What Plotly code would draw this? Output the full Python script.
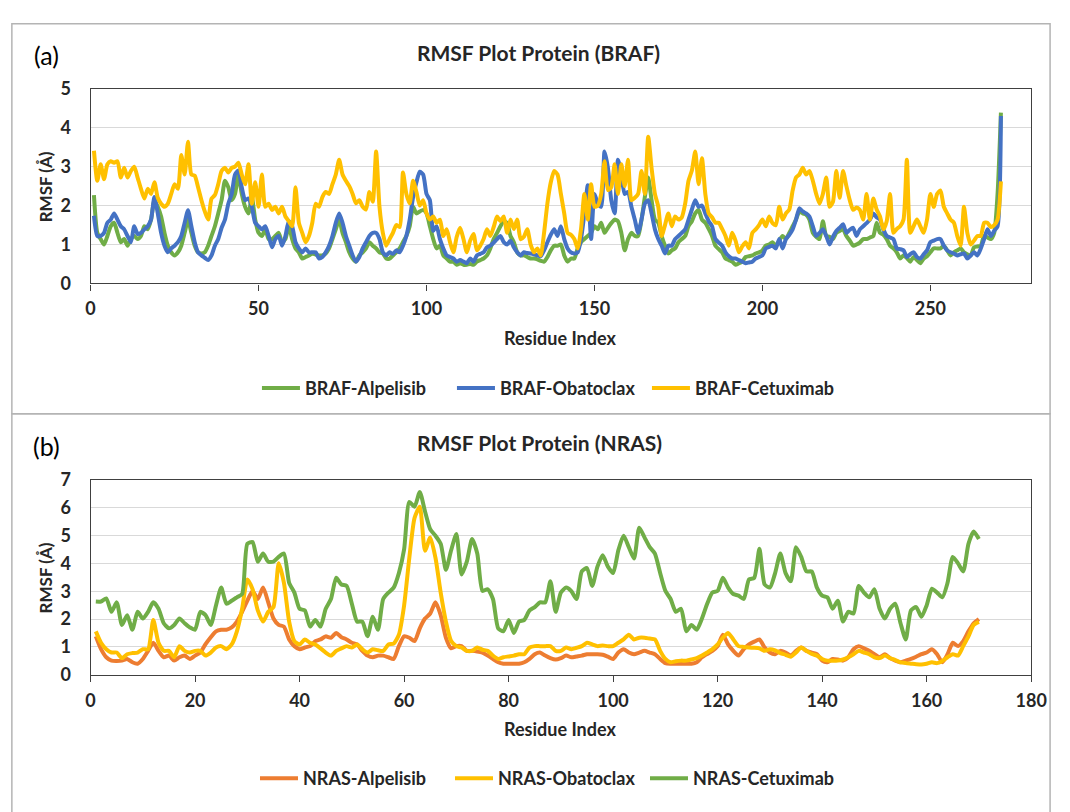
import plotly.graph_objects as go

# ---------------- BRAF RMSF (Å) per residue ----------------
braf_residues = list(range(1, 272))

braf_alpelisib = [
    2.27, 1.30, 1.14, 1.00, 1.22, 1.47, 1.56, 1.30, 1.06, 1.14,
    0.97, 1.14, 1.22, 1.14, 1.22, 1.47, 1.39, 1.64, 2.14, 1.97,
    1.72, 1.30, 0.97, 0.80, 0.72, 0.80, 0.97, 1.30, 1.64, 1.30,
    0.97, 0.80, 0.77, 0.80, 0.97, 1.22, 1.47, 1.80, 2.14, 2.64,
    2.47, 2.14, 2.30, 2.80, 2.30, 1.97, 1.80, 2.22, 1.64, 1.30,
    1.22, 1.39, 1.14, 1.14, 1.22, 1.30, 1.06, 1.14, 1.47, 1.14,
    0.90, 0.80, 0.64, 0.68, 0.72, 0.77, 0.74, 0.72, 0.72, 0.77,
    0.90, 1.14, 1.39, 1.64, 1.30, 1.06, 0.80, 0.64, 0.56, 0.72,
    0.80, 0.90, 1.06, 0.97, 0.90, 0.80, 0.77, 0.64, 0.64, 0.72,
    0.80, 0.90, 1.06, 1.22, 1.47, 1.97, 1.80, 1.85, 1.89, 1.80,
    1.47, 1.14, 0.90, 0.97, 0.72, 0.64, 0.56, 0.56, 0.48, 0.52,
    0.48, 0.48, 0.50, 0.48, 0.56, 0.60, 0.64, 0.72, 0.90, 1.14,
    1.30, 1.47, 1.60, 1.55, 1.22, 1.06, 0.80, 0.72, 0.72, 0.68,
    0.64, 0.64, 0.62, 0.58, 0.56, 0.68, 0.85, 0.97, 0.97, 1.00,
    0.72, 0.56, 0.64, 0.64, 0.90, 1.06, 1.14, 1.22, 1.30, 1.47,
    1.39, 1.56, 1.30, 1.43, 1.55, 1.64, 1.60, 1.30, 0.85, 1.14,
    1.30, 1.22, 1.22, 1.64, 2.22, 2.72, 2.14, 1.64, 1.56, 1.22,
    0.97, 0.77, 0.85, 0.90, 1.06, 1.14, 1.22, 1.47, 1.60, 1.80,
    1.89, 1.64, 1.56, 1.40, 1.22, 0.97, 0.88, 0.80, 0.64, 0.60,
    0.56, 0.48, 0.52, 0.56, 0.68, 0.70, 0.72, 0.77, 0.80, 0.85,
    0.97, 1.00, 1.06, 0.97, 1.10, 1.22, 1.14, 1.30, 1.47, 1.64,
    1.85, 1.80, 1.77, 1.64, 1.30, 1.20, 1.14, 1.60, 1.22, 1.20,
    1.14, 1.30, 1.35, 1.39, 1.22, 1.10, 0.97, 1.00, 1.05, 1.14,
    1.14, 1.18, 1.22, 1.56, 1.30, 1.25, 1.14, 0.97, 0.90, 0.80,
    0.64, 0.72, 0.65, 0.56, 0.68, 0.60, 0.52, 0.64, 0.70, 0.80,
    0.90, 0.90, 0.90, 0.97, 0.85, 0.72, 0.80, 0.85, 0.90, 0.80,
    0.75, 0.72, 0.93, 0.95, 0.97, 1.22, 1.18, 1.14, 1.30, 2.30,
    4.39,
]

braf_obatoclax = [
    1.74, 1.22, 1.22, 1.30, 1.56, 1.64, 1.80, 1.64, 1.47, 1.39,
    1.22, 1.06, 1.47, 1.27, 1.30, 1.39, 1.47, 1.64, 2.22, 1.80,
    1.30, 0.97, 0.80, 0.90, 0.97, 1.06, 1.22, 1.56, 1.88, 1.47,
    1.06, 0.80, 0.72, 0.66, 0.60, 0.72, 0.97, 1.14, 1.43, 1.64,
    2.05, 2.30, 2.80, 2.90, 2.47, 2.14, 2.18, 1.97, 1.56, 1.47,
    1.39, 1.47, 1.22, 0.93, 1.14, 1.22, 0.97, 1.22, 1.60, 1.47,
    1.06, 0.90, 0.80, 0.90, 0.80, 0.80, 0.80, 0.64, 0.68, 0.80,
    0.97, 1.22, 1.56, 1.80, 1.56, 1.22, 0.97, 0.72, 0.56, 0.68,
    0.90, 1.06, 1.22, 1.30, 1.30, 1.14, 0.80, 0.72, 0.80, 0.76,
    0.85, 0.80, 0.97, 1.22, 1.64, 2.22, 2.60, 2.87, 2.80, 2.30,
    2.14, 1.35, 1.47, 1.14, 0.90, 0.72, 0.68, 0.64, 0.56, 0.60,
    0.56, 0.52, 0.64, 0.56, 0.72, 0.76, 0.80, 0.93, 0.97, 1.05,
    1.14, 1.22, 1.06, 1.00, 1.10, 0.93, 0.80, 0.72, 0.80, 0.78,
    0.77, 0.75, 0.72, 0.70, 0.85, 1.06, 1.25, 1.39, 1.22, 1.47,
    1.14, 0.90, 0.80, 0.77, 0.80, 1.14, 1.80, 2.52, 1.14, 2.30,
    2.05, 1.97, 3.39, 2.97, 2.14, 1.80, 3.18, 2.80, 2.30, 2.35,
    1.97, 1.64, 1.30, 1.64, 2.05, 2.14, 1.80, 1.39, 1.14, 0.97,
    0.77, 0.97, 0.97, 1.14, 1.22, 1.30, 1.39, 1.64, 1.90, 2.14,
    1.97, 2.00, 1.80, 1.60, 1.47, 1.14, 1.05, 0.97, 0.80, 0.70,
    0.64, 0.64, 0.60, 0.56, 0.52, 0.54, 0.56, 0.64, 0.68, 0.72,
    0.90, 0.94, 0.97, 0.90, 1.14, 0.90, 1.14, 1.25, 1.39, 1.64,
    1.93, 1.85, 1.80, 1.72, 1.47, 1.22, 1.30, 1.39, 1.22, 1.00,
    1.20, 1.35, 1.43, 1.52, 1.30, 1.38, 1.43, 1.22, 1.39, 1.47,
    1.55, 1.64, 1.80, 1.70, 1.64, 1.39, 1.22, 1.18, 1.14, 0.90,
    0.88, 0.85, 0.68, 0.75, 0.80, 0.68, 0.64, 0.75, 0.85, 1.06,
    1.10, 1.14, 1.14, 0.97, 0.85, 0.80, 0.77, 0.72, 0.75, 0.77,
    0.64, 0.72, 0.80, 0.72, 0.90, 1.14, 1.39, 1.22, 1.35, 1.47,
    4.30,
]

braf_cetuximab = [
    3.41, 2.64, 3.06, 2.68, 3.06, 3.14, 3.10, 3.14, 2.72, 2.97,
    2.72, 2.89, 3.00, 2.72, 2.43, 2.18, 2.43, 2.30, 2.60, 2.20,
    2.05, 1.97, 2.05, 2.30, 2.55, 2.43, 3.30, 2.80, 3.64, 2.80,
    2.77, 2.47, 2.14, 1.85, 1.64, 2.18, 2.27, 2.55, 2.89, 2.97,
    2.85, 2.97, 3.00, 3.10, 2.80, 2.55, 3.06, 2.05, 2.60, 1.97,
    2.80, 1.97, 2.05, 1.89, 1.97, 1.80, 1.97, 1.72, 1.60, 1.47,
    2.47, 1.56, 1.30, 1.06, 1.22, 1.56, 2.05, 1.97, 2.22, 2.35,
    2.30, 2.55, 2.80, 3.18, 2.80, 2.64, 2.50, 2.30, 2.06, 2.14,
    1.97, 1.90, 2.35, 2.10, 3.39, 1.97, 1.30, 0.97, 1.14, 1.30,
    1.50, 1.45, 2.85, 2.30, 2.06, 2.64, 2.35, 2.00, 2.14, 1.80,
    1.64, 1.72, 1.56, 1.64, 1.22, 1.39, 1.06, 0.80, 1.20, 1.43,
    1.14, 0.80, 1.10, 1.27, 0.85, 0.97, 1.14, 1.39, 1.22, 1.45,
    1.72, 1.60, 1.72, 1.30, 1.64, 1.40, 1.64, 1.14, 1.20, 1.39,
    1.00, 0.80, 0.90, 0.72, 1.30, 2.06, 2.60, 2.89, 2.80, 2.30,
    1.80, 1.30, 1.25, 1.14, 0.90, 1.40, 2.30, 1.64, 2.55, 1.97,
    2.00, 2.30, 3.14, 2.40, 2.47, 3.06, 2.30, 3.06, 2.50, 3.18,
    2.14, 2.20, 2.30, 2.89, 2.30, 3.77, 2.97, 2.30, 1.97, 1.22,
    1.50, 1.80, 1.47, 1.72, 1.64, 1.70, 2.05, 2.64, 2.90, 3.39,
    2.55, 3.22, 2.30, 1.80, 1.70, 1.56, 1.56, 1.40, 1.22, 0.97,
    1.30, 1.10, 0.80, 0.95, 1.06, 0.90, 1.30, 1.39, 1.50, 1.64,
    1.47, 1.72, 1.55, 1.50, 1.97, 1.64, 1.80, 1.90, 2.39, 2.72,
    2.80, 2.97, 2.80, 2.89, 2.64, 2.30, 2.05, 2.30, 2.72, 1.97,
    2.10, 2.89, 2.20, 2.89, 2.50, 2.14, 1.89, 1.95, 1.89, 1.64,
    2.30, 1.64, 2.18, 1.90, 1.72, 1.39, 1.60, 2.30, 1.30, 1.40,
    1.47, 1.64, 3.18, 1.30, 1.47, 1.64, 1.47, 1.30, 1.64, 2.30,
    1.97, 2.30, 2.39, 1.97, 1.80, 1.64, 1.56, 1.22, 0.97, 1.97,
    1.30, 1.00, 1.10, 1.22, 1.22, 1.56, 1.56, 1.45, 1.50, 1.64,
    2.62,
]

# ---------------- NRAS RMSF (Å) per residue ----------------
nras_residues = list(range(1, 171))

nras_alpelisib = [
    1.38, 0.92, 0.63, 0.51, 0.50, 0.51, 0.57, 0.45, 0.40, 0.57,
    0.86, 1.15, 0.86, 0.63, 0.69, 0.51, 0.63, 0.69, 0.57, 0.69,
    0.80, 1.10, 1.35, 1.56, 1.62, 1.62, 1.70, 1.91, 2.26, 2.66,
    3.01, 2.72, 3.13, 2.60, 2.02, 1.79, 1.73, 1.27, 1.03, 0.92,
    0.98, 1.03, 1.21, 1.27, 1.38, 1.33, 1.50, 1.35, 1.27, 1.15,
    1.09, 0.86, 0.69, 0.63, 0.69, 0.69, 0.63, 0.57, 1.03, 1.38,
    1.33, 1.21, 1.67, 2.02, 2.20, 2.60, 2.14, 1.33, 0.95, 1.03,
    1.03, 0.86, 0.86, 0.84, 0.80, 0.69, 0.57, 0.45, 0.40, 0.40,
    0.40, 0.40, 0.45, 0.57, 0.74, 0.80, 0.69, 0.60, 0.55, 0.60,
    0.69, 0.63, 0.66, 0.69, 0.74, 0.74, 0.74, 0.72, 0.65, 0.57,
    0.80, 0.92, 0.80, 0.74, 0.80, 0.86, 0.80, 0.74, 0.57, 0.42,
    0.40, 0.40, 0.40, 0.40, 0.40, 0.45, 0.63, 0.75, 0.86, 1.03,
    1.44, 1.09, 0.86, 0.69, 0.92, 1.09, 1.19, 1.27, 0.98, 0.80,
    0.74, 0.86, 0.80, 0.69, 0.86, 0.98, 0.86, 0.80, 0.74, 0.51,
    0.45, 0.57, 0.55, 0.51, 0.63, 0.92, 1.03, 0.95, 0.86, 0.74,
    0.63, 0.74, 0.60, 0.51, 0.45, 0.51, 0.57, 0.65, 0.74, 0.80,
    0.92, 0.74, 0.45, 0.74, 1.15, 1.03, 1.21, 1.56, 1.85, 2.00,
]

nras_obatoclax = [
    1.56, 1.15, 0.92, 0.80, 0.80, 0.60, 0.74, 0.78, 0.80, 0.92,
    0.92, 1.97, 1.15, 0.86, 0.86, 0.63, 1.03, 0.86, 0.80, 0.86,
    0.86, 0.69, 0.80, 0.98, 1.03, 0.92, 1.09, 1.56, 2.37, 3.42,
    3.07, 2.31, 1.91, 2.26, 2.43, 4.00, 3.30, 1.91, 1.21, 1.09,
    1.27, 1.15, 1.09, 0.95, 0.80, 0.69, 0.86, 0.95, 1.03, 0.98,
    1.09, 0.92, 0.80, 0.92, 0.88, 0.86, 1.09, 1.12, 1.44, 2.49,
    4.20, 5.63, 6.03, 4.45, 4.93, 4.20, 2.95, 1.91, 1.21, 1.03,
    0.98, 0.86, 0.86, 0.98, 0.90, 0.86, 0.69, 0.57, 0.63, 0.66,
    0.69, 0.74, 0.74, 0.98, 1.03, 1.03, 1.03, 1.03, 0.86, 0.86,
    0.98, 0.92, 0.97, 1.03, 1.15, 1.09, 1.03, 1.05, 1.03, 1.03,
    1.15, 1.27, 1.44, 1.27, 1.33, 1.33, 1.30, 1.27, 0.86, 0.57,
    0.45, 0.49, 0.51, 0.51, 0.55, 0.60, 0.69, 0.80, 0.92, 1.09,
    1.33, 1.50, 1.27, 1.03, 1.00, 0.98, 0.97, 0.95, 0.86, 0.92,
    0.88, 0.78, 0.72, 0.65, 0.80, 0.98, 0.86, 0.75, 0.69, 0.57,
    0.51, 0.51, 0.51, 0.55, 0.63, 0.74, 0.86, 0.80, 0.74, 0.63,
    0.60, 0.69, 0.60, 0.53, 0.45, 0.42, 0.40, 0.38, 0.37, 0.40,
    0.45, 0.42, 0.50, 0.63, 0.74, 0.69, 1.03, 1.38, 1.79, 1.90,
]

nras_cetuximab = [
    2.63, 2.63, 2.74, 2.26, 2.60, 1.79, 2.14, 1.62, 2.26, 2.02,
    2.26, 2.60, 2.37, 1.85, 1.67, 1.79, 2.02, 1.85, 1.70, 1.62,
    2.26, 2.14, 1.79, 2.49, 3.13, 2.55, 2.66, 2.78, 2.90, 4.70,
    4.76, 4.06, 4.35, 4.06, 4.06, 4.23, 4.35, 3.30, 2.95, 2.37,
    2.31, 1.73, 1.97, 1.73, 2.37, 2.72, 3.48, 3.24, 3.19, 2.55,
    1.91, 1.91, 1.38, 2.08, 1.62, 2.72, 2.95, 3.13, 3.65, 4.50,
    6.20, 6.03, 6.56, 5.86, 5.22, 4.99, 4.70, 3.77, 4.47, 5.05,
    3.60, 4.06, 4.87, 4.35, 3.01, 3.07, 2.72, 1.67, 1.56, 1.97,
    1.50, 1.91, 1.97, 2.31, 2.43, 2.60, 2.60, 3.36, 2.26, 2.95,
    3.13, 3.00, 2.72, 3.71, 3.83, 3.19, 3.88, 4.29, 3.88, 3.65,
    4.47, 4.99, 4.58, 4.17, 5.28, 4.93, 4.58, 4.35, 3.65, 3.01,
    2.72, 2.26, 2.37, 1.56, 1.79, 1.62, 2.02, 2.55, 2.95, 3.01,
    3.48, 3.13, 2.90, 2.84, 2.72, 3.42, 3.48, 4.52, 3.24, 3.13,
    3.65, 4.35, 3.65, 3.36, 4.58, 4.23, 3.71, 3.71, 3.13, 2.84,
    2.78, 2.37, 2.66, 1.91, 2.26, 2.20, 3.19, 2.95, 2.78, 3.07,
    2.37, 2.02, 2.37, 2.55, 1.85, 1.27, 2.31, 2.43, 2.08, 2.49,
    3.09, 2.95, 2.78, 3.30, 4.23, 4.00, 3.71, 4.70, 5.14, 4.87,
]

braf_ticks = [0, 50, 100, 150, 200, 250]
nras_ticks = [0, 20, 40, 60, 80, 100, 120, 140, 160, 180]

GREEN = "#70AD47"
BLUE = "#4472C4"
GOLD = "#FFC000"
ORANGE = "#ED7D31"

W, H = 1070, 812
FONT = "Lato"
TXT = "#262626"


def fx(px):
    return px / W


def fy(py):
    return 1 - py / H


fig = go.Figure()

series_top = [
    ("BRAF-Alpelisib", braf_alpelisib, GREEN),
    ("BRAF-Obatoclax", braf_obatoclax, BLUE),
    ("BRAF-Cetuximab", braf_cetuximab, GOLD),
]
for name, vals, col in series_top:
    fig.add_trace(go.Scatter(
        x=braf_residues, y=vals, name=name, mode="lines",
        line=dict(color=col, width=4, shape="spline", smoothing=0.6),
        xaxis="x", yaxis="y", legend="legend",
    ))

series_bottom = [
    ("NRAS-Alpelisib", nras_alpelisib, ORANGE),
    ("NRAS-Obatoclax", nras_obatoclax, GOLD),
    ("NRAS-Cetuximab", nras_cetuximab, GREEN),
]
for name, vals, col in series_bottom:
    fig.add_trace(go.Scatter(
        x=nras_residues, y=vals, name=name, mode="lines",
        line=dict(color=col, width=4, shape="spline", smoothing=0.6),
        xaxis="x2", yaxis="y2", legend="legend2",
    ))

tick_font = dict(family=FONT, size=18, color=TXT, weight="bold")
x_dom = [fx(87.3), fx(1046.7)]

xcommon = dict(
    domain=x_dom, showline=True, linecolor="#404040", linewidth=1.3,
    mirror=True, ticks="outside", ticklen=6, tickwidth=1.3,
    tickcolor="#404040", showgrid=False, zeroline=False,
    tickfont=tick_font, ticklabelstandoff=3,
)
ycommon = dict(
    showline=True, linecolor="#404040", linewidth=1.3, mirror=True,
    ticks="", showgrid=True, gridcolor="#d9d9d9", gridwidth=1,
    zeroline=False, tickfont=tick_font, ticklabelstandoff=15, dtick=1,
)

legend_font = dict(family=FONT, size=18, color=TXT, weight="bold")

fig.update_layout(
    width=W, height=H,
    margin=dict(l=0, r=0, t=0, b=0),
    paper_bgcolor="white", plot_bgcolor="white",
    xaxis=dict(xcommon, range=[0, 280], tickvals=braf_ticks, anchor="y"),
    yaxis=dict(ycommon, range=[0, 5], domain=[fy(279), fy(79)], anchor="x"),
    xaxis2=dict(xcommon, range=[0, 180], tickvals=nras_ticks, anchor="y2"),
    yaxis2=dict(ycommon, range=[0, 7], domain=[fy(681.3), fy(480.7)], anchor="x2"),
    legend=dict(
        orientation="h", x=fx(257), xanchor="left", y=fy(386.7), yanchor="middle",
        font=legend_font, entrywidth=142, bgcolor="rgba(0,0,0,0)", itemwidth=38,
    ),
    legend2=dict(
        orientation="h", x=fx(255), xanchor="left", y=fy(788), yanchor="middle",
        font=legend_font, entrywidth=142, bgcolor="rgba(0,0,0,0)", itemwidth=38,
    ),
)

annotations = [
    ("(a)", 42, 44, 25, "normal", 0),
    ("RMSF Plot Protein (BRAF)", 544, 42, 21, "bold", 0),
    ("RMSF (Å)", 41, 180, 17, "bold", -90),
    ("Residue Index", 566, 335, 18, "bold", 0),
    ("(b)", 42, 446, 25, "normal", 0),
    ("RMSF Plot Protein (NRAS)", 545, 443, 21, "bold", 0),
    ("RMSF (Å)", 41, 582, 17, "bold", -90),
    ("Residue Index", 566, 737, 18, "bold", 0),
]
for text, ax_, ay_, size, weight, angle in annotations:
    fig.add_annotation(
        text=text, x=fx(ax_), y=fy(ay_), xref="paper", yref="paper",
        xanchor="center", yanchor="middle", showarrow=False, textangle=angle,
        font=dict(family=FONT, size=size, color="#000000" if weight == "normal" else TXT,
                  weight=weight),
    )

# panel frames
for top, bottom in [(12, 413), (413, 830)]:
    fig.add_shape(
        type="rect", xref="paper", yref="paper",
        x0=fx(7), x1=fx(1066), y0=fy(bottom), y1=fy(top),
        line=dict(color="#b4b4b4", width=1.5), fillcolor="rgba(0,0,0,0)",
        layer="below",
    )

fig.write_html("out.html")
